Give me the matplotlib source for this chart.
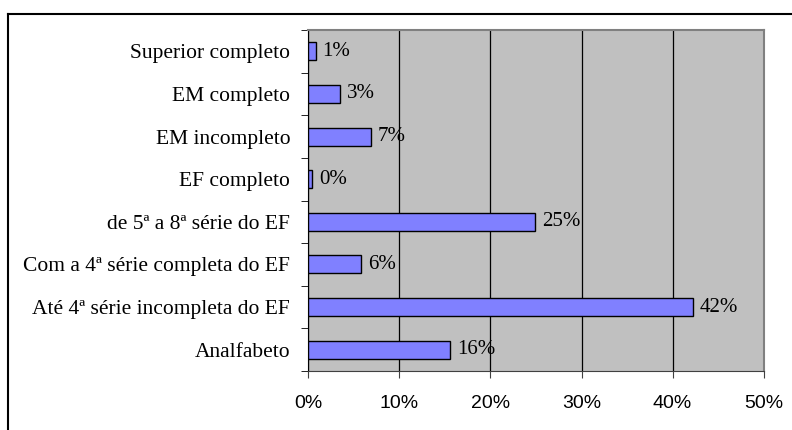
import matplotlib
matplotlib.use("Agg")
import matplotlib.pyplot as plt
from matplotlib.lines import Line2D

categories = ["Analfabeto", "Até 4ª série incompleta do EF", "Com a 4ª série completa do EF",
              "de 5ª a 8ª série do EF", "EF completo", "EM incompleto", "EM completo",
              "Superior completo"]
values = [15.6, 42.2, 5.8, 24.9, 0.4, 6.9, 3.5, 0.8]
labels = ["16%", "42%", "6%", "25%", "0%", "7%", "3%", "1%"]
xticks = [0, 10, 20, 30, 40, 50]
xticklabels = ["0%", "10%", "20%", "30%", "40%", "50%"]

W, H = 792, 430
fig = plt.figure(figsize=(W / 100, H / 100), dpi=100)
ax = fig.add_axes([308.3 / W, (H - 371) / H, (763.7 - 308.3) / W, (371 - 30) / H])
ax.set_facecolor("#C0C0C0")

y = list(range(len(categories)))
ax.barh(y, values, height=0.42, color="#8080FF", edgecolor="black", linewidth=1.0, zorder=3)
for yi, v, lab in zip(y, values, labels):
    ax.annotate(lab, (v, yi), xytext=(5, 0), textcoords="offset points", va="center", ha="left",
                fontsize=15, family="Liberation Serif", zorder=4)

ax.set_xlim(0, 50)
ax.set_ylim(-0.5, len(categories) - 0.5)
ax.set_xticks(xticks)
ax.set_xticklabels(xticklabels, fontsize=14, family="Liberation Sans")
ax.set_yticks(y)
ax.set_yticklabels(categories, fontsize=15.5, family="Liberation Serif")
ax.set_yticks([i - 0.5 for i in range(len(categories) + 1)], minor=True)
ax.tick_params(axis="y", which="major", length=0, pad=13)
ax.tick_params(axis="y", which="minor", length=5, direction="out", color="black")
ax.tick_params(axis="x", length=5, direction="out", pad=12, color="#404040")
ax.xaxis.grid(True, color="black", linewidth=0.9, zorder=1)
ax.set_axisbelow(True)
for side in ["top", "right"]:
    ax.spines[side].set_color("#808080")
    ax.spines[side].set_linewidth(1.5)
ax.spines["left"].set_color("black")
ax.spines["bottom"].set_color("#404040")

fig.add_artist(Line2D([8 / W, 1], [1 - 14 / H, 1 - 14 / H], color="black", linewidth=1.5,
                      transform=fig.transFigure))
fig.add_artist(Line2D([8 / W, 8 / W], [0, 1 - 14 / H], color="black", linewidth=1.5,
                      transform=fig.transFigure))

fig.savefig("out.png", dpi=100)
